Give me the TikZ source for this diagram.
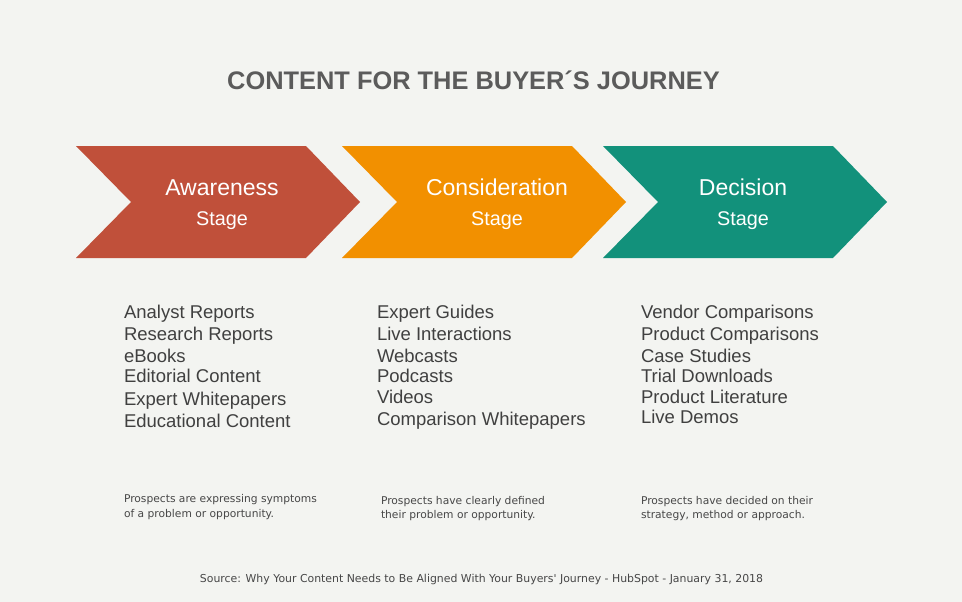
\documentclass[tikz,border=0pt]{standalone}
\usepackage{fontspec}
\setmainfont{Liberation Sans}
\newfontfamily\notefont{DejaVu Sans}
\definecolor{bg}{HTML}{F3F4F1}
\definecolor{awr}{HTML}{C0503A}
\definecolor{cons}{HTML}{F29000}
\definecolor{deci}{HTML}{12917B}
\definecolor{titlegray}{HTML}{5B5B5B}
\definecolor{listgray}{HTML}{404040}
\definecolor{notegray}{HTML}{474747}
\begin{document}
\begin{tikzpicture}[x=1pt,y=-1pt,
  every node/.style={inner sep=0pt, outer sep=0pt},
  titletext/.style={anchor=base, text=titlegray, font=\fontsize{25.4pt}{30pt}\selectfont\bfseries},
  stagename/.style={anchor=base, text=white, font=\fontsize{23pt}{27pt}\selectfont},
  stagesub/.style={anchor=base, text=white, font=\fontsize{19.8pt}{24pt}\selectfont},
  listitem/.style={anchor=base west, text=listgray, font=\fontsize{18.5pt}{22pt}\selectfont},
  note/.style={anchor=base west, text=notegray, font=\notefont\fontsize{10.7pt}{13pt}\selectfont},
  source/.style={anchor=base, text=notegray, font=\notefont\fontsize{10.9pt}{13pt}\selectfont}]
\useasboundingbox (0,0) rectangle (962,602);
\fill[bg] (0,0) rectangle (962,602);

\node[titletext] (title) at (473.5,89) {CONTENT FOR THE BUYER´S JOURNEY};

% chevrons
\fill[awr]  (76,146)  -- ++(230,0) -- ++(54,56) -- ++(-54,56) -- ++(-230,0) -- ++(55,-56) -- cycle;
\fill[cons] (342,146) -- ++(230,0) -- ++(54,56) -- ++(-54,56) -- ++(-230,0) -- ++(55,-56) -- cycle;
\fill[deci] (603,146) -- ++(230,0) -- ++(54,56) -- ++(-54,56) -- ++(-230,0) -- ++(55,-56) -- cycle;

\node[stagename] (aw) at (222,195) {Awareness};
\node[stagesub]  (aws) at (222,225) {Stage};
\node[stagename] (co) at (497,195) {Consideration};
\node[stagesub]  (cos) at (497,225) {Stage};
\node[stagename] (de) at (743,195) {Decision};
\node[stagesub]  (des) at (743,225) {Stage};

% lists
\node[listitem] (a1) at (124,318)   {Analyst Reports};
\node[listitem] (a2) at (124,340)   {Research Reports};
\node[listitem] (a3) at (124,362)   {eBooks};
\node[listitem] (a4) at (124,382.5) {Editorial Content};
\node[listitem] (a5) at (124,405)   {Expert Whitepapers};
\node[listitem] (a6) at (124,427.5) {Educational Content};

\node[listitem] (c1) at (377,318)   {Expert Guides};
\node[listitem] (c2) at (377,340)   {Live Interactions};
\node[listitem] (c3) at (377,362)   {Webcasts};
\node[listitem] (c4) at (377,382.5) {Podcasts};
\node[listitem] (c5) at (377,403.5) {Videos};
\node[listitem] (c6) at (377,425)   {Comparison Whitepapers};

\node[listitem] (d1) at (641,318)   {Vendor Comparisons};
\node[listitem] (d2) at (641,340)   {Product Comparisons};
\node[listitem] (d3) at (641,362)   {Case Studies};
\node[listitem] (d4) at (641,382.5) {Trial Downloads};
\node[listitem] (d5) at (641,403.5) {Product Literature};
\node[listitem] (d6) at (641,423.5) {Live Demos};

% notes
\node[note] (an1) at (124,502.5) {Prospects are expressing symptoms};
\node[note] (an2) at (124,517)   {of a problem or opportunity.};
\node[note] (cn1) at (381,504.5) {Prospects have clearly defined};
\node[note] (cn2) at (381,518.5) {their problem or opportunity.};
\node[note] (dn1) at (641,504.5) {Prospects have decided on their};
\node[note] (dn2) at (641,518.5) {strategy, method or approach.};

\node[source] (src) at (481.5,582) {Source: Why Your Content Needs to Be Aligned With Your Buyers' Journey - HubSpot - January 31, 2018};
\end{tikzpicture}
\end{document}
